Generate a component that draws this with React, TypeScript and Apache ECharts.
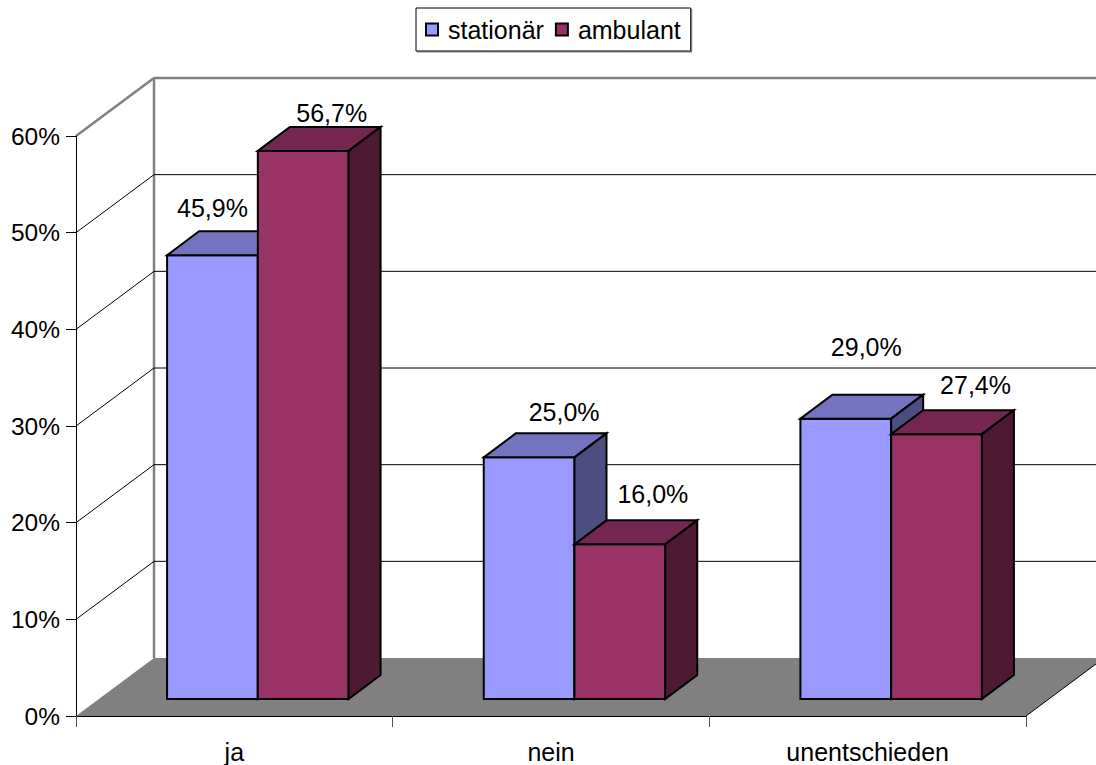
import React, { useEffect, useRef } from "react";
import * as echarts from "echarts";

const categories = ["ja", "nein", "unentschieden"];
const stationaer = [45.9, 25.0, 29.0];
const ambulant = [56.7, 16.0, 27.4];
const ticks = [0, 10, 20, 30, 40, 50, 60];

const FONT = '"Liberation Sans", Arial, sans-serif';
const WALL_DX = 78;
const WALL_DY = 58;
const PLANE_DX = 23.5;
const PLANE_DY = 17;
const BAR_DX = 32;
const BAR_DY = 24;
const BAR_RATIO = 0.2866;
const LABEL_NUDGE: Record<string, number[][]> = {
  s: [[0, -47], [35, -45], [20.5, -72]],
  a: [[28.5, -38], [33, -50], [39, -49]],
};

const fmt = (v: number) => v.toFixed(1).replace(".", ",") + "%";

function barRenderer(side: number, key: string, front: string, top: string, right: string) {
  return (_params: any, api: any) => {
    const idx = api.value(0);
    const val = api.value(1);
    const c = api.coord([idx, val]);
    const b = api.coord([idx, 0]);
    const w = api.size([1, 0])[0] * BAR_RATIO;
    const x0 = c[0] + PLANE_DX + (side === 0 ? -w : 0);
    const x1 = x0 + w;
    const y0 = c[1] - PLANE_DY;
    const y1 = b[1] - PLANE_DY;
    const stroke = { stroke: "#000", lineWidth: 2, lineJoin: "miter" };
    const nudge = LABEL_NUDGE[key][idx];
    return {
      type: "group",
      children: [
        { type: "polygon", shape: { points: [[x0, y0], [x1, y0], [x1, y1], [x0, y1]] }, style: { fill: front, ...stroke } },
        { type: "polygon", shape: { points: [[x0, y0], [x0 + BAR_DX, y0 - BAR_DY], [x1 + BAR_DX, y0 - BAR_DY], [x1, y0]] }, style: { fill: top, ...stroke } },
        { type: "polygon", shape: { points: [[x1, y0], [x1 + BAR_DX, y0 - BAR_DY], [x1 + BAR_DX, y1 - BAR_DY], [x1, y1]] }, style: { fill: right, ...stroke } },
        {
          type: "text",
          style: {
            text: fmt(val),
            x: (x0 + x1) / 2 + nudge[0],
            y: y0 + nudge[1],
            align: "center",
            verticalAlign: "middle",
            font: `25px ${FONT}`,
            fill: "#000",
          },
        },
      ],
    };
  };
}

function wallRenderer(params: any, api: any) {
  const t = api.value(0);
  const sys = params.coordSys;
  const left = sys.x;
  const right = sys.x + sys.width;
  const y = api.coord([0, t])[1];
  const children: any[] = [];
  if (t === 0) {
    children.push({
      type: "polygon",
      shape: { points: [[left, y], [left + WALL_DX, y - WALL_DY], [right + WALL_DX, y - WALL_DY], [right, y]] },
      style: { fill: "#808080" },
    });
    children.push({
      type: "line",
      shape: { x1: right, y1: y, x2: right + WALL_DX, y2: y - WALL_DY },
      style: { stroke: "#000", lineWidth: 1 },
    });
    children.push({
      type: "line",
      shape: { x1: left + WALL_DX, y1: y - WALL_DY, x2: left + WALL_DX, y2: sys.y - WALL_DY },
      style: { stroke: "#808080", lineWidth: 2.5 },
    });
  } else {
    const isTop = t === ticks[ticks.length - 1];
    const style = isTop ? { stroke: "#808080", lineWidth: 2.5 } : { stroke: "#000", lineWidth: 1 };
    children.push({ type: "line", shape: { x1: left, y1: y, x2: left + WALL_DX, y2: y - WALL_DY }, style });
    children.push({ type: "line", shape: { x1: left + WALL_DX, y1: y - WALL_DY, x2: right + WALL_DX, y2: y - WALL_DY }, style });
  }
  return { type: "group", children };
}

export default function App() {
  const ref = useRef<HTMLDivElement>(null);
  useEffect(() => {
    document.body.style.margin = "0";
    const chart = echarts.init(ref.current!, undefined, { renderer: "svg" });
    chart.setOption({
      animation: false,
      backgroundColor: "#fff",
      textStyle: { fontFamily: FONT },
      legend: {
        left: 416,
        top: 8,
        orient: "horizontal",
        data: [
          { name: "stationär", itemStyle: { color: "#9999FF", borderColor: "#000", borderWidth: 2 } },
          { name: "ambulant", itemStyle: { color: "#993366", borderColor: "#000", borderWidth: 2 } },
        ],
        icon: "rect",
        itemWidth: 12,
        itemHeight: 12,
        itemGap: 11,
        padding: [9, 10, 9, 9],
        backgroundColor: "#fff",
        borderColor: "#000",
        borderWidth: 1,
        shadowColor: "#808080",
        shadowBlur: 0,
        shadowOffsetX: 1,
        shadowOffsetY: 1,
        textStyle: { fontFamily: FONT, fontSize: 25, color: "#000", padding: [0, 0, 0, 5] },
      },
      grid: { left: 76, right: 70, top: 136, bottom: 49, containLabel: false },
      xAxis: {
        type: "category",
        data: categories,
        z: 5,
        axisLine: { show: true, lineStyle: { color: "#000", width: 1 } },
        axisTick: { show: true, alignWithLabel: false, length: 11, lineStyle: { color: "#555", width: 1 } },
        axisLabel: { color: "#000", fontSize: 25, fontFamily: FONT, margin: 23 },
        splitLine: { show: false },
      },
      yAxis: {
        type: "value",
        min: 0,
        max: 60,
        interval: 10,
        z: 5,
        axisLine: { show: true, lineStyle: { color: "#000", width: 1 } },
        axisTick: { show: true, length: 10, lineStyle: { color: "#000", width: 1 } },
        axisLabel: { color: "#000", fontSize: 24.5, fontFamily: FONT, margin: 16, padding: [5, 0, 0, 0], formatter: "{value}%" },
        splitLine: { show: false },
      },
      series: [
        {
          type: "custom",
          name: "walls",
          z: 1,
          silent: true,
          clip: false,
          coordinateSystem: "cartesian2d",
          renderItem: wallRenderer,
          encode: { y: 0 },
          data: ticks.map((t) => [t]),
        },
        {
          type: "custom",
          name: "stationär",
          z: 3,
          clip: false,
          coordinateSystem: "cartesian2d",
          itemStyle: { color: "#9999FF" },
          renderItem: barRenderer(0, "s", "#9999FF", "#7373BF", "#4D4D80"),
          encode: { x: 0, y: 1 },
          data: stationaer.map((v, i) => [i, v]),
        },
        {
          type: "custom",
          name: "ambulant",
          z: 4,
          clip: false,
          coordinateSystem: "cartesian2d",
          itemStyle: { color: "#993366" },
          renderItem: barRenderer(1, "a", "#993366", "#732650", "#4D1A33"),
          encode: { x: 0, y: 1 },
          data: ambulant.map((v, i) => [i, v]),
        },
      ],
    });
    return () => chart.dispose();
  }, []);
  return <div ref={ref} style={{ position: "absolute", left: 0, top: 0, width: 1096, height: 765 }} />;
}
